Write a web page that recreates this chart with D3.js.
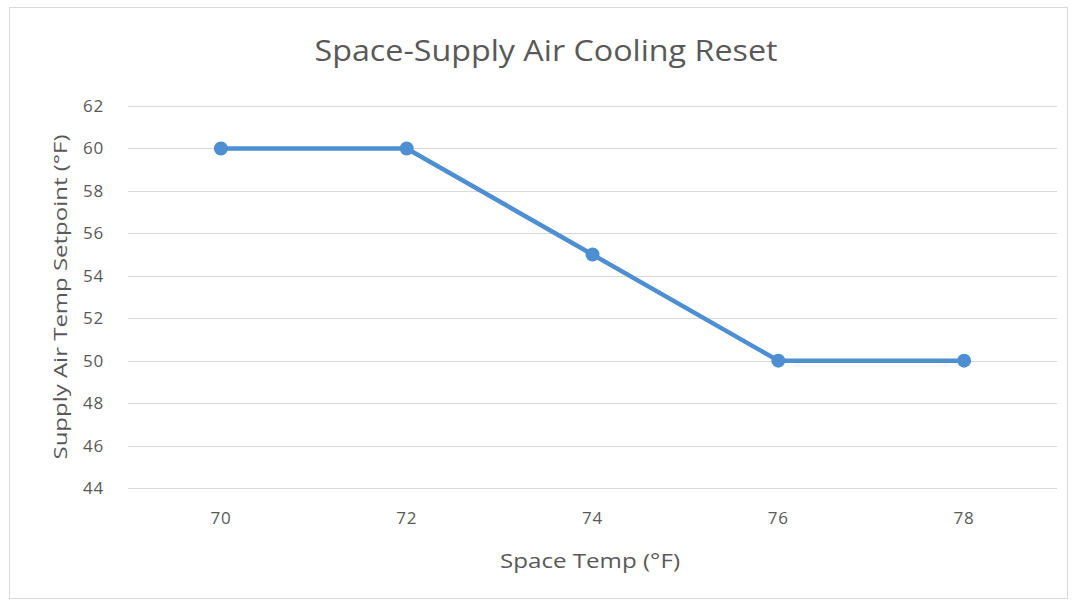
<!DOCTYPE html>
<html>
<head>
<meta charset="utf-8">
<script src="https://cdn.jsdelivr.net/npm/d3@7"></script>
<style>
  html, body { margin: 0; padding: 0; background: #fff; }
  svg { display: block; }
</style>
</head>
<body>
<svg id="chart" width="1076" height="606"></svg>
<script>
// Space temperature categories (°F) and the supply air setpoint at each
const spaceTemps = ["70", "72", "74", "76", "78"];
const supplySetpoints = [60, 60, 55, 50, 50];
const yTicks = [44, 46, 48, 50, 52, 54, 56, 58, 60, 62];

const chartTitle = "Space-Supply Air Cooling Reset";
const xTitle = "Space Temp (°F)";
const yTitle = "Supply Air Temp Setpoint (°F)";

const svg = d3.select("#chart");
const font = "'Open Sans', Lato, sans-serif";
const textColor = "#595959";
const lineColor = "#4d8fd1";

// Chart area border
svg.append("rect")
  .attr("x", 9.5).attr("y", 7.5)
  .attr("width", 1058).attr("height", 591)
  .attr("fill", "#fff")
  .attr("stroke", "#d9d9d9")
  .attr("stroke-width", 1);

const plot = { left: 128, right: 1057, top: 106, bottom: 488 };

const x = d3.scaleBand()
  .domain(spaceTemps)
  .range([plot.left, plot.right]);

const y = d3.scaleLinear()
  .domain([44, 62])
  .range([plot.bottom, plot.top]);

// Horizontal gridlines
svg.append("g")
  .selectAll("line")
  .data(yTicks)
  .join("line")
  .attr("x1", plot.left).attr("x2", plot.right)
  .attr("y1", d => Math.round(y(d)) + 0.5)
  .attr("y2", d => Math.round(y(d)) + 0.5)
  .attr("stroke", "#d9d9d9")
  .attr("stroke-width", 1);

// Y axis labels
const yAxis = d3.axisLeft(y).tickValues(yTicks).tickSize(0).tickPadding(0);
svg.append("g")
  .attr("transform", `translate(${plot.left - 24},0)`)
  .call(yAxis)
  .call(g => g.select(".domain").remove())
  .call(g => g.selectAll("text")
    .attr("font-family", font)
    .attr("font-size", 17)
    .attr("letter-spacing", 0.8)
    .attr("fill", textColor));

// X axis labels
const xAxis = d3.axisBottom(x).tickSize(0).tickPadding(0);
svg.append("g")
  .attr("transform", `translate(0,${plot.bottom + 24})`)
  .call(xAxis)
  .call(g => g.select(".domain").remove())
  .call(g => g.selectAll("text")
    .attr("font-family", font)
    .attr("font-size", 17)
    .attr("letter-spacing", 0.8)
    .attr("fill", textColor));

// Series line with round markers
const cx = d => x(d) + x.bandwidth() / 2;
const pts = spaceTemps.map((t, i) => [cx(t), y(supplySetpoints[i])]);

svg.append("path")
  .datum(pts)
  .attr("d", d3.line())
  .attr("fill", "none")
  .attr("stroke", lineColor)
  .attr("stroke-width", 4.5)
  .attr("stroke-linejoin", "round")
  .attr("stroke-linecap", "round");

svg.append("g")
  .selectAll("circle")
  .data(pts)
  .join("circle")
  .attr("cx", d => d[0])
  .attr("cy", d => d[1])
  .attr("r", 7)
  .attr("fill", lineColor);

// Titles
svg.append("text")
  .attr("x", 546).attr("y", 61)
  .attr("text-anchor", "middle")
  .attr("font-family", font)
  .attr("font-size", 30)
  .attr("textLength", 463)
  .attr("lengthAdjust", "spacingAndGlyphs")
  .attr("fill", textColor)
  .text(chartTitle);

svg.append("text")
  .attr("x", 590).attr("y", 568)
  .attr("text-anchor", "middle")
  .attr("font-family", font)
  .attr("font-size", 20)
  .attr("textLength", 180)
  .attr("lengthAdjust", "spacingAndGlyphs")
  .attr("fill", textColor)
  .text(xTitle);

svg.append("text")
  .attr("transform", "translate(67,297) rotate(-90)")
  .attr("text-anchor", "middle")
  .attr("font-family", font)
  .attr("font-size", 19)
  .attr("textLength", 325)
  .attr("lengthAdjust", "spacingAndGlyphs")
  .attr("fill", textColor)
  .text(yTitle);
</script>
</body>
</html>
